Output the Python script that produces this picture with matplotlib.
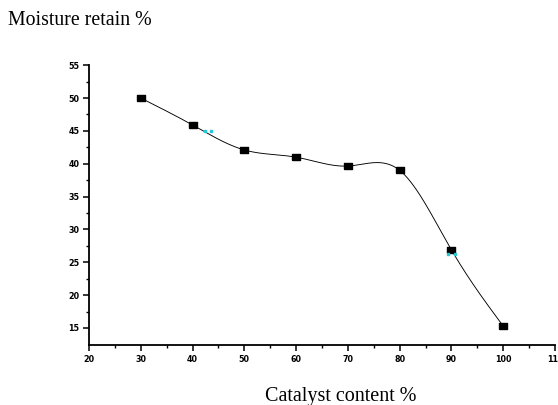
import numpy as np
import matplotlib
matplotlib.use("Agg")
import matplotlib.pyplot as plt

catalyst = [30, 40, 50, 60, 70, 80, 90, 100]
moisture = [50.0, 45.9, 42.1, 41.0, 39.65, 39.0, 26.9, 15.3]

# small cyan marks left on the curve
cyan_x = [42.5, 43.5, 89.3, 90.7]
cyan_y = [45.0, 45.0, 26.2, 26.2]


def spline(x, y, xs):
  # natural cubic spline for the smooth connecting line
  x = np.asarray(x, float)
  y = np.asarray(y, float)
  n = len(x)
  h = np.diff(x)
  A = np.zeros((n, n))
  b = np.zeros(n)
  A[0, 0] = 1
  A[-1, -1] = 1
  for i in range(1, n - 1):
    A[i, i - 1] = h[i - 1]
    A[i, i] = 2 * (h[i - 1] + h[i])
    A[i, i + 1] = h[i]
    b[i] = 6 * ((y[i + 1] - y[i]) / h[i] - (y[i] - y[i - 1]) / h[i - 1])
  m = np.linalg.solve(A, b)
  out = np.zeros_like(xs)
  for j, t in enumerate(xs):
    i = min(np.searchsorted(x, t) - 1, n - 2)
    i = max(i, 0)
    a = (x[i + 1] - t) / h[i]
    c = (t - x[i]) / h[i]
    out[j] = (a * y[i] + c * y[i + 1]
              + ((a ** 3 - a) * m[i] + (c ** 3 - c) * m[i + 1]) * h[i] ** 2 / 6)
  return out


fig = plt.figure(figsize=(5.58, 4.05), dpi=100)
ax = fig.add_axes([0.1595, 0.148, 0.835, 0.691])

# flat square marker, a bit wider than tall
box = [(-1.4, -1), (1.4, -1), (1.4, 1), (-1.4, 1), (-1.4, -1)]

xs = np.linspace(catalyst[0], catalyst[-1], 400)
ax.plot(xs, spline(catalyst, moisture, xs), color="black", lw=0.65)
ax.plot(catalyst, moisture, linestyle="none", marker=box, color="black",
        markersize=5.5)
ax.plot(cyan_x, cyan_y, "s", color="#22c8d8", markersize=1.5)

ax.set_xlim(20, 110)
ax.set_ylim(12.4, 55)
ax.set_xticks(np.arange(20, 111, 10))
ax.set_xticks(np.arange(25, 110, 10), minor=True)
ax.set_yticks(np.arange(15, 56, 5))
ax.set_yticks(np.arange(17.5, 55, 5), minor=True)

for s in ["top", "right"]:
  ax.spines[s].set_visible(False)
for s in ["left", "bottom"]:
  ax.spines[s].set_linewidth(1.3)

ax.tick_params(which="major", direction="out", length=4, width=1.1,
               labelsize=5.8, pad=3)
ax.tick_params(which="minor", direction="out", length=2, width=1.0)
for lab in ax.get_xticklabels() + ax.get_yticklabels():
  lab.set_fontweight("bold")

fig.text(0.014, 0.95, "Moisture retain %", family="Liberation Serif",
         fontsize=14.3, va="center", ha="left")
fig.text(0.61, 0.02, "Catalyst content %", family="Liberation Serif",
         fontsize=14.5, va="center", ha="center")

fig.savefig("out.png", dpi=100)
